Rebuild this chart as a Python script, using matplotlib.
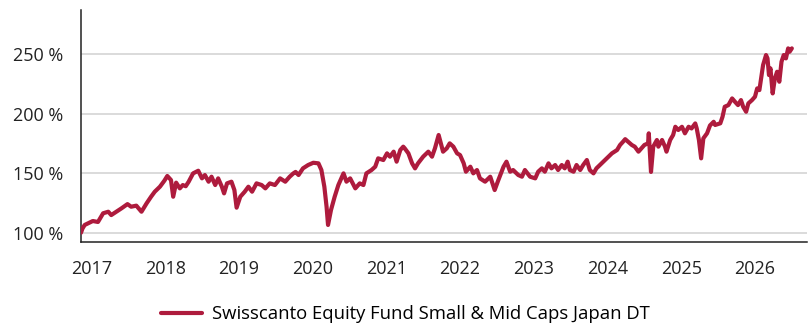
import matplotlib.pyplot as plt

plt.rcParams['font.family'] = ['Open Sans', 'DejaVu Sans']

# time axis in decimal years, values in percent of start
years = [
    2016.86, 2016.88, 2016.91, 2017.02, 2017.09, 2017.16, 2017.23, 2017.27, 2017.34, 2017.41,
    2017.49, 2017.54, 2017.61, 2017.68, 2017.75, 2017.81, 2017.86, 2017.93, 2017.99, 2018.03,
    2018.08, 2018.11, 2018.15, 2018.20, 2018.24, 2018.28, 2018.32, 2018.38, 2018.45, 2018.50,
    2018.54, 2018.59, 2018.63, 2018.68, 2018.72, 2018.77, 2018.80, 2018.84, 2018.90, 2018.94,
    2018.97, 2019.02, 2019.08, 2019.13, 2019.18, 2019.24, 2019.31, 2019.36, 2019.42, 2019.49,
    2019.56, 2019.63, 2019.69, 2019.74, 2019.77, 2019.81, 2019.87, 2019.94, 2020.01, 2020.08,
    2020.12, 2020.16, 2020.19, 2020.21, 2020.25, 2020.30, 2020.35, 2020.42, 2020.46, 2020.51,
    2020.58, 2020.64, 2020.69, 2020.73, 2020.80, 2020.85, 2020.89, 2020.96, 2021.01, 2021.05,
    2021.10, 2021.14, 2021.19, 2021.23, 2021.25, 2021.30, 2021.35, 2021.39, 2021.43, 2021.50,
    2021.57, 2021.62, 2021.66, 2021.71, 2021.74, 2021.77, 2021.82, 2021.86, 2021.91, 2021.96,
    2022.00, 2022.05, 2022.08, 2022.14, 2022.18, 2022.23, 2022.27, 2022.34, 2022.41, 2022.47,
    2022.52, 2022.59, 2022.63, 2022.68, 2022.72, 2022.79, 2022.84, 2022.88, 2022.95, 2023.02,
    2023.06, 2023.11, 2023.15, 2023.20, 2023.24, 2023.29, 2023.33, 2023.38, 2023.42, 2023.46,
    2023.49, 2023.54, 2023.58, 2023.63, 2023.67, 2023.72, 2023.76, 2023.81, 2023.85, 2023.92,
    2023.99, 2024.06, 2024.13, 2024.17, 2024.21, 2024.24, 2024.28, 2024.33, 2024.37, 2024.42,
    2024.46, 2024.50, 2024.55, 2024.56, 2024.59, 2024.62, 2024.67, 2024.69, 2024.74, 2024.78,
    2024.80, 2024.85, 2024.89, 2024.92, 2024.96, 2025.01, 2025.05, 2025.10, 2025.14, 2025.19,
    2025.21, 2025.24, 2025.27, 2025.30, 2025.35, 2025.39, 2025.44, 2025.46, 2025.53, 2025.56,
    2025.59, 2025.64, 2025.69, 2025.73, 2025.77, 2025.81, 2025.84, 2025.88, 2025.91, 2025.96,
    2026.00, 2026.03, 2026.06, 2026.09, 2026.11, 2026.15, 2026.17, 2026.19, 2026.21, 2026.24,
    2026.27, 2026.30, 2026.33, 2026.36, 2026.39, 2026.42, 2026.45, 2026.47, 2026.50,
]
values = [
    100.0, 103.5, 106.5, 109.8, 109.0, 116.3, 117.6, 114.8, 117.6, 120.5,
    124.0, 121.8, 122.7, 117.6, 124.7, 130.2, 134.4, 138.6, 143.6, 147.6,
    144.2, 130.2, 142.0, 137.2, 140.0, 139.0, 142.8, 149.8, 152.0, 145.6,
    148.4, 142.8, 147.0, 140.0, 145.6, 138.6, 133.0, 141.4, 142.8, 135.8,
    121.0, 130.2, 134.4, 138.6, 134.4, 141.4, 140.0, 137.2, 141.4, 140.0,
    145.6, 142.8, 147.0, 149.8, 151.0, 148.4, 154.0, 156.8, 158.7, 158.2,
    152.6, 138.6, 121.8, 106.5, 119.0, 130.2, 140.0, 149.8, 142.8, 145.6,
    137.2, 141.4, 140.0, 149.8, 152.6, 155.4, 162.4, 161.0, 166.6, 163.8,
    168.0, 159.6, 169.4, 172.2, 170.8, 166.6, 158.2, 154.0, 158.2, 163.8,
    168.0, 163.8, 170.8, 182.0, 175.0, 168.0, 170.8, 175.0, 172.2, 166.6,
    165.2, 158.2, 151.2, 155.4, 149.8, 152.6, 145.6, 142.8, 147.0, 135.8,
    144.2, 155.4, 159.6, 151.2, 152.6, 148.4, 147.0, 152.6, 147.0, 145.6,
    151.2, 154.0, 151.2, 158.2, 154.0, 156.8, 152.6, 156.8, 154.0, 159.6,
    152.6, 151.2, 156.8, 152.6, 156.8, 161.0, 152.6, 149.8, 154.0, 158.2,
    162.4, 166.6, 169.4, 173.6, 176.3, 178.5, 176.3, 173.6, 172.2, 168.0,
    170.8, 173.6, 175.0, 183.4, 151.0, 172.2, 177.8, 172.2, 177.8, 172.2,
    168.0, 177.8, 182.0, 188.9, 186.2, 188.9, 183.4, 188.9, 187.5, 191.7,
    187.5, 177.8, 162.4, 179.2, 183.4, 190.0, 193.1, 190.4, 191.8, 197.3,
    205.7, 207.1, 212.7, 209.8, 207.1, 211.3, 205.7, 201.5, 208.5, 211.3,
    214.1, 221.1, 219.7, 232.3, 240.7, 249.1, 246.3, 232.3, 237.9, 216.9,
    229.5, 235.1, 226.7, 243.5, 249.1, 246.3, 254.7, 251.9, 254.7,
]

year_ticks = list(range(2017, 2027))
pct_ticks = [100, 150, 200, 250]

fund_name = "Swisscanto Equity Fund Small & Mid Caps Japan DT"
line_color = "#AE1B3D"

fig = plt.figure(figsize=(8.11, 3.26), dpi=100)
ax = fig.add_axes([0.0999, 0.2577, 0.8952, 0.7116])

ax.plot(years, values, color=line_color, linewidth=3.0,
        solid_joinstyle="round", solid_capstyle="round",
        label=fund_name, zorder=3)

ax.set_xlim(2016.86, 2026.706)
ax.set_ylim(92.2, 286.9)
ax.set_xticks(year_ticks)
ax.set_xticklabels([str(y) for y in year_ticks])
ax.set_yticks(pct_ticks)
ax.set_yticklabels([f"{p} %" for p in pct_ticks])

ax.grid(axis="y", color="#d4d4d4", linewidth=1.2, zorder=0)
ax.grid(axis="x", visible=False)
for side in ["top", "right"]:
    ax.spines[side].set_visible(False)
for side in ["left", "bottom"]:
    ax.spines[side].set_color("#222222")
    ax.spines[side].set_linewidth(1.1)

ax.tick_params(axis="both", length=0, labelsize=13, colors="#222222")
ax.tick_params(axis="y", pad=13)
ax.tick_params(axis="x", pad=13)

fig.legend(loc="center", bbox_to_anchor=(0.5, 1 - 314 / 326),
           frameon=False, fontsize=13.3, handlelength=2.2,
           handletextpad=0.55)

fig.savefig("out.png", dpi=100)
